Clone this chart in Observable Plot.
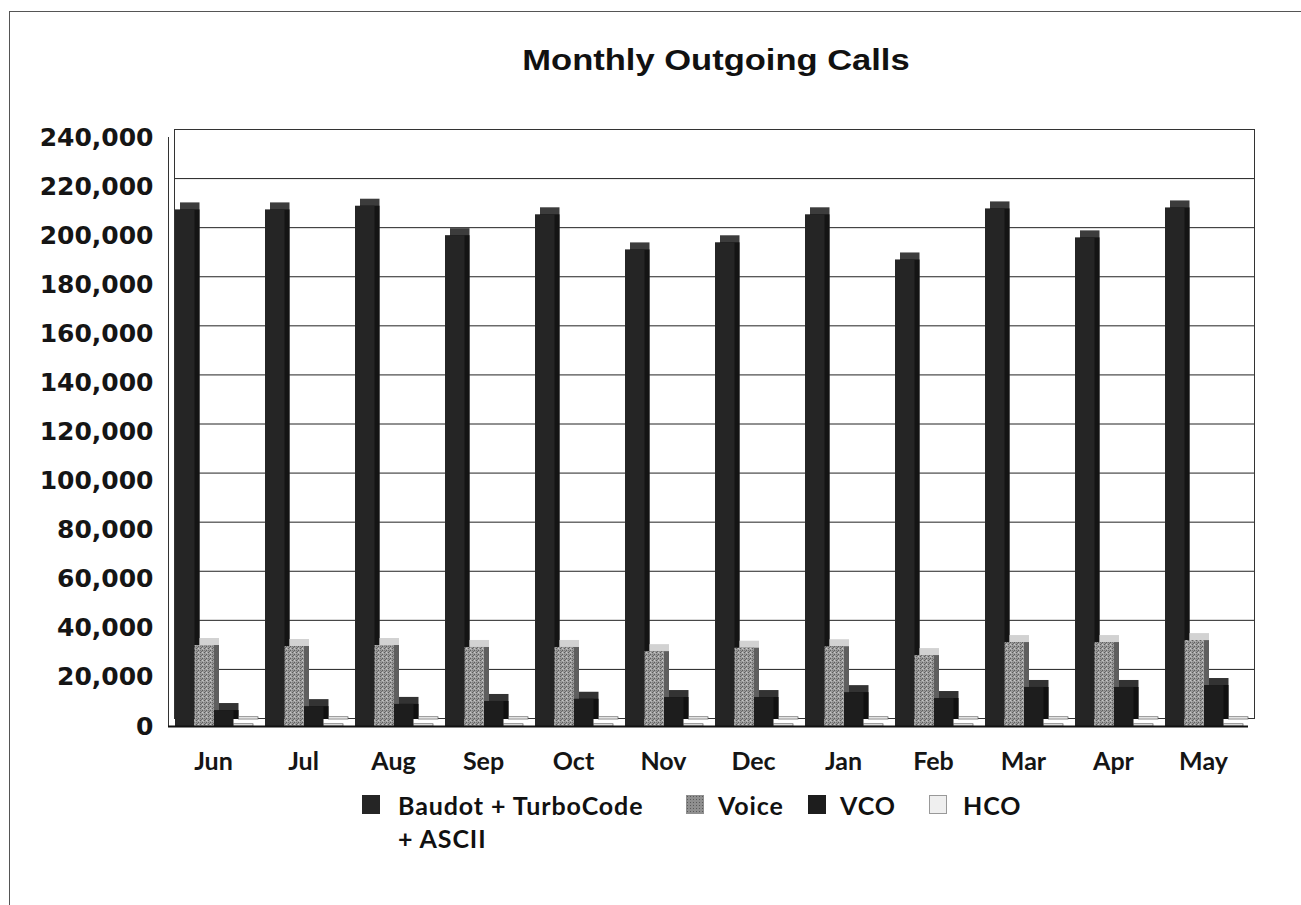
<!DOCTYPE html>
<html>
<head>
<meta charset="utf-8">
<script src="https://cdn.jsdelivr.net/npm/d3@7"></script>
<script src="https://cdn.jsdelivr.net/npm/@observablehq/plot@0.6"></script>
<style>
  html, body { margin: 0; padding: 0; background: #fff; }
  body { width: 1301px; height: 905px; position: relative; overflow: hidden; }
  #border { position: absolute; left: 9px; top: 11px; width: 1400px; height: 1000px;
            border-left: 1.5px solid #555; border-top: 1.5px solid #555; }
  #title { position: absolute; top: 46px; left: 716px; white-space: nowrap;
           font: bold 29px "Liberation Sans", Arial, sans-serif; color: #111; line-height: 1;
           transform: translateX(-50%) scaleX(1.19); }
  #chart { position: absolute; left: 0; top: 100px; }
  .leg { position: absolute; font: bold 25px Lato, "Open Sans", sans-serif; color: #111;
         line-height: 1; letter-spacing: 0.9px; }
  .sw { position: absolute; width: 18px; height: 19px; box-sizing: border-box; }
</style>
</head>
<body>
<div id="border"></div>
<div id="title">Monthly Outgoing Calls</div>
<svg width="0" height="0" style="position:absolute">
  <defs>
    <pattern id="stipple" width="4" height="4" patternUnits="userSpaceOnUse">
      <rect width="4" height="4" fill="#9b9b9b"></rect>
      <rect x="0" y="0" width="1" height="1" fill="#5c5c5c"></rect>
      <rect x="2" y="2" width="1" height="1" fill="#5c5c5c"></rect>
      <rect x="2" y="0" width="1" height="1" fill="#c8c8c8"></rect>
      <rect x="0" y="2" width="1" height="1" fill="#7a7a7a"></rect>
      <rect x="1" y="3" width="1" height="1" fill="#6a6a6a"></rect>
      <rect x="3" y="1" width="1" height="1" fill="#b5b5b5"></rect>
    </pattern>
  </defs>
</svg>
<div id="chart"></div>
<div id="legend"></div>
<script>
// ---- data ----
const months = ["Jun", "Jul", "Aug", "Sep", "Oct", "Nov", "Dec", "Jan", "Feb", "Mar", "Apr", "May"];
const seriesNames = ["Baudot + TurboCode + ASCII", "Voice", "VCO", "HCO"];
const baudot = [210500, 210500, 212000, 200000, 208500, 194200, 197100, 208500, 190100, 210900, 199100, 211300];
const voice  = [33000, 32600, 33000, 32200, 32200, 30500, 31900, 32500, 28900, 34200, 34200, 35000];
const vco    = [6500, 8100, 9000, 10200, 11100, 11800, 11800, 13800, 11400, 15900, 15900, 16700];
const hco    = [900, 900, 900, 900, 900, 900, 900, 900, 900, 900, 900, 900];
const yTicks = [0, 20000, 40000, 60000, 80000, 100000, 120000, 140000, 160000, 180000, 200000, 220000, 240000];

// ---- styles ----
const frontFill = ["#252525", "url(#stipple)", "#1d1d1d", "#efefef"];
const topFill   = ["#3c3c3c", "#d2d2d2", "#333333", "#f8f8f8"];
const sideFill  = ["#141414", "#5f5f5f", "#101010", "#bdbdbd"];
const barStroke = [null, null, null, "#555"];

const values = [baudot, voice, vco, hco];
const rows = [];
seriesNames.forEach((s, si) => months.forEach((m, mi) => rows.push({month: m, series: s, value: values[si][mi]})));

const W = 1301, mL = 168, mR = 53;
const band = (W - mL - mR) / months.length;
const barW = 19.5, off = 7, depthX = 5, depthY = -7;

const marks = [
  Plot.gridY(yTicks, {stroke: "#222", strokeOpacity: 1, strokeWidth: 1, dx: 6, dy: -8}),
  Plot.frame({stroke: "#333", dx: 6, dy: -8}),
  Plot.frame({anchor: "left", stroke: "#333"})
];
seriesNames.forEach((s, i) => {
  const data = rows.filter(d => d.series === s);
  const inset = {insetLeft: off + i * barW, insetRight: band - (off + (i + 1) * barW)};
  marks.push(Plot.barY(data, {x: "month", y: "value", ...inset, fill: topFill[i], stroke: barStroke[i], strokeWidth: 0.7, dx: depthX, dy: depthY}));
  if (i !== 3) marks.push(Plot.barY(data, {x: "month", y: "value", ...inset, insetTop: -depthY, fill: sideFill[i], dx: depthX, dy: depthY}));
  marks.push(Plot.barY(data, {x: "month", y: "value", ...inset, fill: frontFill[i], stroke: barStroke[i], strokeWidth: 0.7}));
});
marks.push(Plot.ruleY([0], {stroke: "#111", strokeWidth: 2}));
marks.push(Plot.axisY(yTicks, {tickFormat: d3.format(","), tickSize: 0, tickPadding: 15, fontSize: 25, fontWeight: "bold", fontFamily: "DejaVu Sans", fill: "#151515", label: null}));
marks.push(Plot.axisX({tickSize: 0, tickPadding: 26, fontSize: 25, fontWeight: "bold", fontFamily: "Lato", fill: "#151515", label: null}));

const chart = Plot.plot({
  width: W,
  height: 686,
  marginLeft: mL,
  marginRight: mR,
  marginTop: 37,
  marginBottom: 60,
  x: {type: "band", domain: months, padding: 0},
  y: {domain: [0, 240000]},
  marks
});
document.getElementById("chart").appendChild(chart);

// ---- legend ----
const legendItems = [
  {name: "Baudot + TurboCode", name2: "+ ASCII", sx: 362, tx: 398, i: 0},
  {name: "Voice", sx: 686, tx: 718, i: 1},
  {name: "VCO", sx: 808, tx: 840, i: 2},
  {name: "HCO", sx: 929, tx: 963, i: 3}
];
const lg = document.getElementById("legend");
legendItems.forEach(it => {
  const sw = document.createElement("div");
  sw.className = "sw";
  sw.style.left = it.sx + "px";
  sw.style.top = "795px";
  if (it.i === 1) {
    sw.style.background = "#8f8f8f";
    sw.style.backgroundImage = "radial-gradient(#5a5a5a 0.6px, transparent 0.8px)";
    sw.style.backgroundSize = "3px 3px";
  } else {
    sw.style.background = frontFill[it.i];
  }
  if (it.i === 3) sw.style.border = "1px solid #999";
  lg.appendChild(sw);
  const t = document.createElement("div");
  t.className = "leg";
  t.style.left = it.tx + "px";
  t.style.top = "793px";
  t.textContent = it.name;
  lg.appendChild(t);
  if (it.name2) {
    const t2 = document.createElement("div");
    t2.className = "leg";
    t2.style.left = it.tx + "px";
    t2.style.top = "826px";
    t2.textContent = it.name2;
    lg.appendChild(t2);
  }
});
</script>
</body>
</html>
